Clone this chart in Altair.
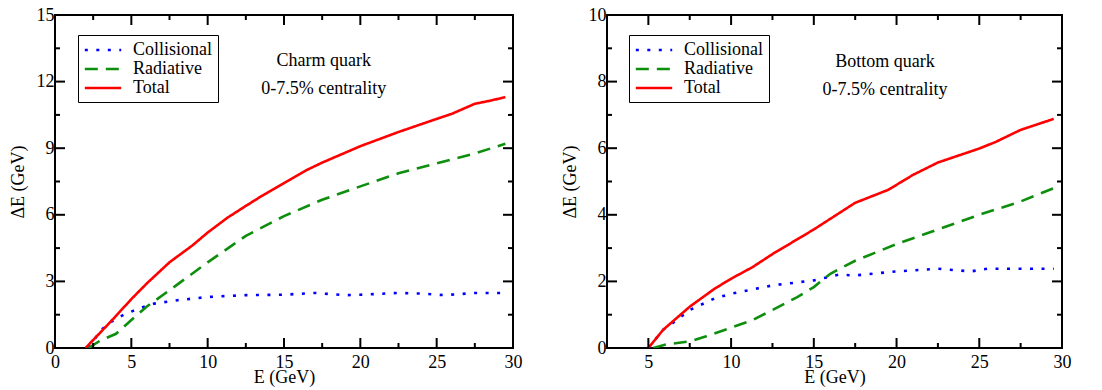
import altair as alt
import pandas as pd

FONT = "Liberation Serif"
SERIES = ["Collisional", "Radiative", "Total"]
COLORS = ["#0000ff", "#0d8f0d", "#ff0000"]
DASHES = [[3, 8.5], [13, 8], [1, 0]]

# ---- Charm quark panel ----
charm_coll_E = [2.2, 3.0, 3.7, 4.5, 5.5, 6.5, 8.0, 10.0, 12.5, 15.0, 17.0, 19.0, 20.0, 22.5, 24.0, 25.5, 27.5, 29.5]
charm_coll_dE = [0.0, 0.8, 1.19, 1.5, 1.78, 2.0, 2.15, 2.3, 2.38, 2.4, 2.48, 2.38, 2.4, 2.48, 2.45, 2.38, 2.48, 2.48]
charm_rad_E = [2.2, 3.0, 4.0, 5.0, 6.0, 7.5, 10.0, 12.5, 15.0, 17.5, 20.0, 22.5, 25.0, 27.5, 29.5]
charm_rad_dE = [0.0, 0.35, 0.64, 1.26, 1.86, 2.6, 3.86, 5.05, 5.94, 6.68, 7.28, 7.87, 8.32, 8.76, 9.2]
charm_tot_E = [2.0, 3.0, 3.65, 5.0, 6.0, 7.5, 9.0, 10.0, 11.3, 12.5, 13.5, 15.0, 16.5, 17.5, 20.0, 22.5, 25.0, 26.0, 27.5, 28.5, 29.5]
charm_tot_dE = [0.0, 0.72, 1.19, 2.2, 2.9, 3.86, 4.62, 5.2, 5.87, 6.4, 6.83, 7.43, 8.02, 8.35, 9.09, 9.73, 10.32, 10.55, 11.0, 11.14, 11.3]

# ---- Bottom quark panel ----
bot_coll_E = [5.0, 5.9, 6.5, 7.5, 9.0, 10.0, 12.5, 15.0, 16.5, 17.5, 20.0, 22.5, 24.5, 25.5, 29.5]
bot_coll_dE = [0.0, 0.55, 0.76, 1.14, 1.49, 1.63, 1.88, 2.03, 2.2, 2.18, 2.3, 2.38, 2.3, 2.38, 2.38]
bot_rad_E = [5.3, 6.0, 7.5, 8.5, 10.0, 11.3, 12.5, 14.0, 15.0, 16.0, 17.5, 20.0, 22.5, 25.0, 27.5, 29.5]
bot_rad_dE = [0.0, 0.1, 0.2, 0.35, 0.61, 0.84, 1.14, 1.53, 1.83, 2.23, 2.62, 3.12, 3.56, 4.0, 4.4, 4.8]
bot_tot_E = [5.0, 5.9, 7.5, 9.0, 10.0, 11.3, 12.5, 15.0, 17.5, 19.5, 21.0, 22.5, 25.0, 26.0, 27.5, 29.5]
bot_tot_dE = [0.0, 0.55, 1.24, 1.78, 2.08, 2.43, 2.82, 3.56, 4.36, 4.75, 5.2, 5.57, 5.99, 6.19, 6.55, 6.88]

# annotations
charm_labels = ["Charm quark", "0-7.5% centrality"]
charm_label_x = [17.6, 17.6]
charm_label_y = [12.95, 11.65]
bot_labels = ["Bottom quark", "0-7.5% centrality"]
bot_label_x = [19.3, 19.3]
bot_label_y = [8.6, 7.75]

# axis ticks
charm_x_major = [0, 5, 10, 15, 20, 25, 30]
charm_x_minor = [2.5, 7.5, 12.5, 17.5, 22.5, 27.5]
charm_y_major = [0, 3, 6, 9, 12, 15]
charm_y_minor = [1.5, 4.5, 7.5, 10.5, 13.5]
bot_x_major = [5, 10, 15, 20, 25, 30]
bot_x_minor = [2.5, 7.5, 12.5, 17.5, 22.5, 27.5]
bot_y_major = [0, 2, 4, 6, 8, 10]
bot_y_minor = [1, 3, 5, 7, 9]


def long_df(coll_E, coll_dE, rad_E, rad_dE, tot_E, tot_dE):
    rows = []
    for name, es, vs in [("Collisional", coll_E, coll_dE), ("Radiative", rad_E, rad_dE), ("Total", tot_E, tot_dE)]:
        for i, (e, v) in enumerate(zip(es, vs)):
            rows.append({"E": e, "dE": v, "series": name, "order": i})
    return pd.DataFrame(rows)


def legend(legx, legy):
    return alt.Legend(
        title=None, orient="none", legendX=legx, legendY=legy,
        symbolType="M-2.1,0H2.1", symbolSize=300, symbolStrokeWidth=2.6, symbolOffset=10,
        labelFont=FONT, labelFontSize=18, labelColor="black", labelOffset=20,
        rowPadding=0, padding=5, strokeColor="black", fillColor="white", labelLimit=300)


def panel(df, xdom, ydom, xmaj, xmin, ymaj, ymin, txt, tx, ty, w, h, legx, legy):
    xs = alt.Scale(domain=xdom, nice=False, zero=False)
    ys = alt.Scale(domain=ydom, nice=False, zero=False)
    lines = alt.Chart(df).mark_line(strokeWidth=2.6, strokeCap="butt", clip=True).encode(
        x=alt.X("E:Q", scale=xs, axis=alt.Axis(
            values=xmaj, title="E (GeV)", ticks=False, tickSize=0, domain=False, grid=False,
            labelFont=FONT, labelFontSize=18, labelColor="black", labelPadding=5,
            titleFont=FONT, titleFontSize=18, titleFontWeight="normal", titleColor="black",
            titlePadding=-3, labelFlush=False)),
        y=alt.Y("dE:Q", scale=ys, axis=alt.Axis(
            values=ymaj, title="ΔE (GeV)", ticks=False, tickSize=0, domain=False, grid=False,
            labelFont=FONT, labelFontSize=18, labelColor="black", labelPadding=1,
            titleFont=FONT, titleFontSize=18, titleFontWeight="normal", titleColor="black",
            titlePadding=9, labelFlush=False)),
        color=alt.Color("series:N", scale=alt.Scale(domain=SERIES, range=COLORS), legend=legend(legx, legy)),
        strokeDash=alt.StrokeDash("series:N", scale=alt.Scale(domain=SERIES, range=DASHES), legend=legend(legx, legy)),
        order="order:Q",
    )

    def xticks(vals, size, at, off):
        return alt.Chart(pd.DataFrame({"v": vals})).mark_tick(
            orient="vertical", size=size, thickness=2, color="black", yOffset=off, opacity=1
        ).encode(x=alt.X("v:Q", scale=xs), y=alt.datum(at))

    def yticks(vals, size, at, off):
        return alt.Chart(pd.DataFrame({"v": vals})).mark_tick(
            orient="horizontal", size=size, thickness=2, color="black", xOffset=off, opacity=1
        ).encode(y=alt.Y("v:Q", scale=ys), x=alt.datum(at))

    ticks = [
        xticks(xmaj, 10, ydom[0], -5), xticks(xmin, 5, ydom[0], -2.5),
        xticks(xmaj, 10, ydom[1], 5), xticks(xmin, 5, ydom[1], 2.5),
        yticks(ymaj, 10, xdom[0], 5), yticks(ymin, 5, xdom[0], 2.5),
        yticks(ymaj, 10, xdom[1], -5), yticks(ymin, 5, xdom[1], -2.5),
    ]

    tdf = pd.DataFrame({"t": txt, "x": tx, "y": ty})
    text = alt.Chart(tdf).mark_text(font=FONT, fontSize=18, color="black", align="center", baseline="middle").encode(
        x=alt.X("x:Q", scale=xs), y=alt.Y("y:Q", scale=ys), text="t:N")

    return alt.layer(lines, *ticks, text).properties(width=w, height=h)


charm_df = long_df(charm_coll_E, charm_coll_dE, charm_rad_E, charm_rad_dE, charm_tot_E, charm_tot_dE)
bot_df = long_df(bot_coll_E, bot_coll_dE, bot_rad_E, bot_rad_dE, bot_tot_E, bot_tot_dE)

left = panel(charm_df, [0, 30], [0, 15], charm_x_major, charm_x_minor, charm_y_major, charm_y_minor,
             charm_labels, charm_label_x, charm_label_y, 458, 333, 23, 20)
right = panel(bot_df, [2.5, 30], [0, 10], bot_x_major, bot_x_minor, bot_y_major, bot_y_minor,
              bot_labels, bot_label_x, bot_label_y, 455, 333, 22, 20)

chart = alt.hconcat(left, right, spacing=37).resolve_scale(
    color="independent", strokeDash="independent"
).resolve_legend(color="independent", strokeDash="independent").properties(
    padding={"left": 0, "top": -3, "right": 0, "bottom": 0}
).configure(font=FONT).configure_view(stroke="black", strokeWidth=2)

chart.save("out.html", embed_options={"renderer": "svg", "actions": False})
